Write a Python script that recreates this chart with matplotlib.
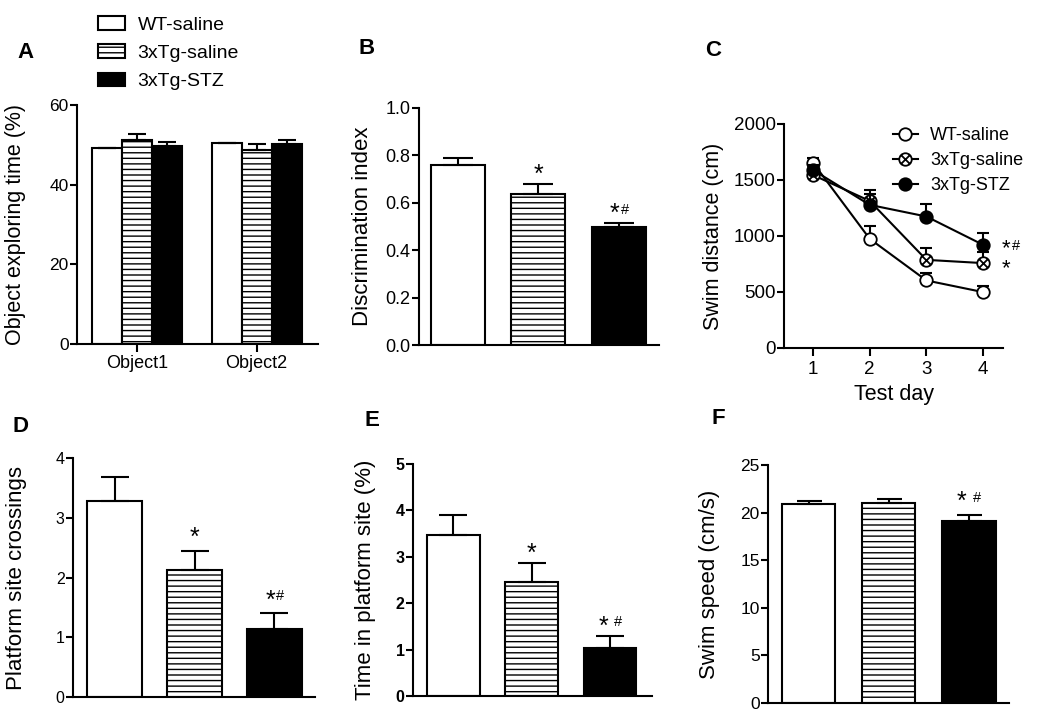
import numpy as np
import matplotlib
matplotlib.use('Agg')
import matplotlib.pyplot as plt
from matplotlib.path import Path
from matplotlib.ticker import FormatStrFormatter

plt.rcParams['font.family'] = ['Liberation Sans', 'DejaVu Sans']
plt.rcParams['hatch.linewidth'] = 1.0
plt.rcParams['hatch.color'] = 'black'

# ---------------- data ----------------
groups = ['WT-saline', '3xTg-saline', '3xTg-STZ']

# Panel A: object exploring time (%)
objects = ['Object1', 'Object2']
a_wt = [49.1, 50.5]
a_wt_err = [0.0, 0.0]
a_tg = [51.2, 48.7]
a_tg_err = [1.4, 1.5]
a_stz = [49.8, 50.1]
a_stz_err = [1.0, 1.2]

# Panel B: discrimination index
b_mean = [0.761, 0.639, 0.496]
b_err = [0.026, 0.039, 0.017]
b_sig = ['', '*', '*#']

# Panel C: swim distance (cm) per test day
days = [1, 2, 3, 4]
c_wt = [1655, 975, 603, 499]
c_wt_err = [40, 110, 63, 57]
c_tg = [1545, 1313, 787, 758]
c_tg_err = [30, 99, 102, 101]
c_stz = [1590, 1278, 1174, 921]
c_stz_err = [40, 100, 113, 110]
c_sig = ['', '*', '*#']

# Panel D: platform site crossings
d_mean = [3.28, 2.13, 1.13]
d_err = [0.40, 0.32, 0.27]
d_sig = ['', '*', '*#']

# Panel E: time in platform site (%)
e_mean = [3.46, 2.46, 1.04]
e_err = [0.44, 0.40, 0.25]
e_sig = ['', '*', '* #']

# Panel F: swim speed (cm/s)
f_mean = [20.9, 21.0, 19.1]
f_err = [0.35, 0.40, 0.60]
f_sig = ['', '', '* #']

# ---------------- styling ----------------
faces = ['white', 'white', 'black']
hatches = [None, '---', None]
LW = 1.5
W, H = 1050, 716
PX = 0.72  # points per pixel at 100 dpi

fig = plt.figure(figsize=(10.5, 7.16), dpi=100)


def rect(l, r, t, b):
    return [l / W, 1 - b / H, (r - l) / W, (b - t) / H]


def style_axes(ax, tick_fs, bold=False):
    for s in ['top', 'right']:
        ax.spines[s].set_visible(False)
    for s in ['left', 'bottom']:
        ax.spines[s].set_linewidth(LW)
    ax.tick_params(axis='y', direction='out', length=5, width=LW,
                   labelsize=tick_fs, pad=1)
    if bold:
        for lab in ax.get_yticklabels():
            lab.set_fontweight('bold')


def ylabel(ax, text, xpix, fs=15.5):
    ax.set_ylabel(text, fontsize=fs)
    ax.yaxis.label.set_rotation_mode('anchor')
    ax.yaxis.label.set_va('center')
    bb = ax.get_position()
    ax.yaxis.set_label_coords(xpix / W, bb.y0 + bb.height / 2,
                              transform=fig.transFigure)


STAR_FS, HASH_FS = 18, 10.5


def sig_text(ax, x, ytop, label, gap_px, split_px):
    if not label:
        return
    has_hash = '#' in label
    dx_star = -split_px[0] if has_hash else 0
    ax.annotate('*', xy=(x, ytop), xycoords='data',
                xytext=(dx_star * PX, (gap_px - 0.575 * STAR_FS / PX) * PX),
                textcoords='offset points', ha='center', va='baseline',
                fontsize=STAR_FS)
    if has_hash:
        ax.annotate('#', xy=(x, ytop), xycoords='data',
                    xytext=(split_px[1] * PX, (gap_px - 2 - 0.35 * HASH_FS / PX) * PX),
                    textcoords='offset points', ha='center', va='baseline',
                    fontsize=HASH_FS)


def bar_panel(ax, means, errs, sigs, width, xlim, ylim, yticks, fmt,
              gap_px, tick_fs, bold=False, caps=10):
    x = np.arange(len(means))
    for i in range(len(means)):
        ax.bar(x[i], means[i], width=width, color=faces[i], edgecolor='black',
               linewidth=LW, hatch=hatches[i], zorder=2)
        ax.errorbar(x[i], means[i], yerr=[[0], [errs[i]]], fmt='none',
                    ecolor='black', elinewidth=LW, capsize=caps,
                    capthick=LW, zorder=3)
    ax.set_xlim(*xlim)
    ax.set_ylim(*ylim)
    ax.set_yticks(yticks)
    if fmt:
        ax.yaxis.set_major_formatter(FormatStrFormatter(fmt))
    ax.set_xticks([])
    style_axes(ax, tick_fs, bold)
    for i in range(len(means)):
        split = (4, 6) if ' ' not in sigs[i] else (7, 8)
        sig_text(ax, x[i], means[i] + errs[i], sigs[i], gap_px, split)


# ---------------- Panel A ----------------
axA = fig.add_axes(rect(77, 318, 105, 344))
centers = np.array([2.0, 6.0])
a_series = [(a_wt, a_wt_err), (a_tg, a_tg_err), (a_stz, a_stz_err)]
handles = []
for k, (m, e) in enumerate(a_series):
    xs = centers + (k - 1) * 1.0
    h = axA.bar(xs, m, width=1.0, color=faces[k], edgecolor='black',
                linewidth=LW, hatch=hatches[k], label=groups[k], zorder=2)
    handles.append(h)
    axA.errorbar(xs, m, yerr=[np.zeros(len(m)), e], fmt='none', ecolor='black',
                 elinewidth=LW, capsize=6.5, capthick=LW, zorder=3)
axA.set_xlim(0, 8.05)
axA.set_ylim(0, 60)
axA.set_yticks([0, 20, 40, 60])
axA.set_xticks(centers)
axA.set_xticklabels(objects, fontsize=13)
style_axes(axA, 12.5)
axA.tick_params(axis='x', direction='out', length=6, width=LW, pad=2)
ylabel(axA, 'Object exploring time (%)', 16)

fig.legend(handles=handles, labels=groups, loc='upper left',
           bbox_to_anchor=(90 / W, 1 - 8 / H), bbox_transform=fig.transFigure,
           frameon=False, fontsize=14, handlelength=1.4, handleheight=0.72,
           handletextpad=0.65, labelspacing=0.55, borderaxespad=0)

# ---------------- Panel B ----------------
axB = fig.add_axes(rect(419, 659, 108, 345))
bar_panel(axB, b_mean, b_err, b_sig, 0.67, (-0.48, 2.5), (0, 1.0),
          [0, 0.2, 0.4, 0.6, 0.8, 1.0], '%.1f', 17, 13, caps=10.5)
ylabel(axB, 'Discrimination index', 362, 16)

# ---------------- Panel C ----------------
axC = fig.add_axes(rect(784, 1003, 124, 348))
xpath = Path.make_compound_path(
    Path.unit_circle(),
    Path([[-0.707, -0.707], [0.707, 0.707]], [Path.MOVETO, Path.LINETO]),
    Path([[-0.707, 0.707], [0.707, -0.707]], [Path.MOVETO, Path.LINETO]))
c_series = [(c_wt, c_wt_err, 'o', 'white'),
            (c_tg, c_tg_err, xpath, 'white'),
            (c_stz, c_stz_err, 'o', 'black')]
c_handles = []
for k, (m, e, mk, fc) in enumerate(c_series):
    axC.errorbar(days, m, yerr=[np.zeros(len(m)), e], fmt='none',
                 ecolor='black', elinewidth=LW, capsize=4.5, capthick=LW,
                 zorder=2 + k)
    ln, = axC.plot(days, m, color='black', linewidth=LW, marker=mk,
                   markersize=9, markerfacecolor=fc, markeredgecolor='black',
                   markeredgewidth=1.3, zorder=3 + k, label=groups[k])
    c_handles.append(ln)
axC.set_xlim(0.49, 4.35)
axC.set_ylim(0, 2000)
axC.set_yticks([0, 500, 1000, 1500, 2000])
axC.set_xticks(days)
style_axes(axC, 13.5)
axC.tick_params(axis='x', direction='out', length=6, width=LW,
                labelsize=13.5, pad=3)
axC.set_xlabel('Test day', fontsize=15.5, labelpad=5)
ylabel(axC, 'Swim distance (cm)', 713, 15.5)
axC.legend(handles=c_handles, labels=groups, loc='upper left',
           bbox_to_anchor=(886 / W, 1 - 120 / H), bbox_transform=fig.transFigure,
           frameon=False, fontsize=13, handlelength=1.35, handletextpad=0.7,
           labelspacing=0.45, borderaxespad=0)
# significance marks at the end of the 3xTg lines (stacked in one text)
c_marks = [s.replace('#', '') for s in c_sig if s]
c_top = max(c_stz[-1], c_tg[-1])
axC.annotate('\n'.join(reversed(c_marks)), xy=(days[-1], c_top),
             xytext=(23 * PX, 7 * PX), textcoords='offset points',
             ha='center', va='top', fontsize=16, linespacing=0.95)
axC.annotate('#', xy=(days[-1], c_stz[-1]), xytext=(33 * PX, -5 * PX),
             textcoords='offset points', ha='center', va='baseline',
             fontsize=HASH_FS)

# ---------------- Panel D ----------------
axD = fig.add_axes(rect(73, 315, 458, 697))
bar_panel(axD, d_mean, d_err, d_sig, 0.69, (-0.525, 2.51), (0, 4),
          [0, 1, 2, 3, 4], None, 20, 11.5, caps=10)
ylabel(axD, 'Platform site crossings', 17, 16)

# ---------------- Panel E ----------------
axE = fig.add_axes(rect(413, 652, 464, 696))
bar_panel(axE, e_mean, e_err, e_sig, 0.675, (-0.51, 2.535), (0, 5),
          [0, 1, 2, 3, 4, 5], None, 17, 11.5, bold=True, caps=10)
ylabel(axE, 'Time in platform site (%)', 366, 16)

# ---------------- Panel F ----------------
axF = fig.add_axes(rect(768, 1009, 465, 703))
bar_panel(axF, f_mean, f_err, f_sig, 0.667, (-0.505, 2.5), (0, 25),
          [0, 5, 10, 15, 20, 25], None, 21, 12.5, caps=9)
ylabel(axF, 'Swim speed (cm/s)', 710, 16)

# ---------------- panel letters ----------------
for letter, (px, py) in zip('ABCDEF', [(25, 52), (367, 49), (713, 51),
                                       (20, 427), (372, 420), (718, 418)]):
    fig.text(px / W, 1 - py / H, letter, fontsize=16, fontweight='bold',
             ha='center', va='center')

fig.savefig('out.png', dpi=100, facecolor='white')
